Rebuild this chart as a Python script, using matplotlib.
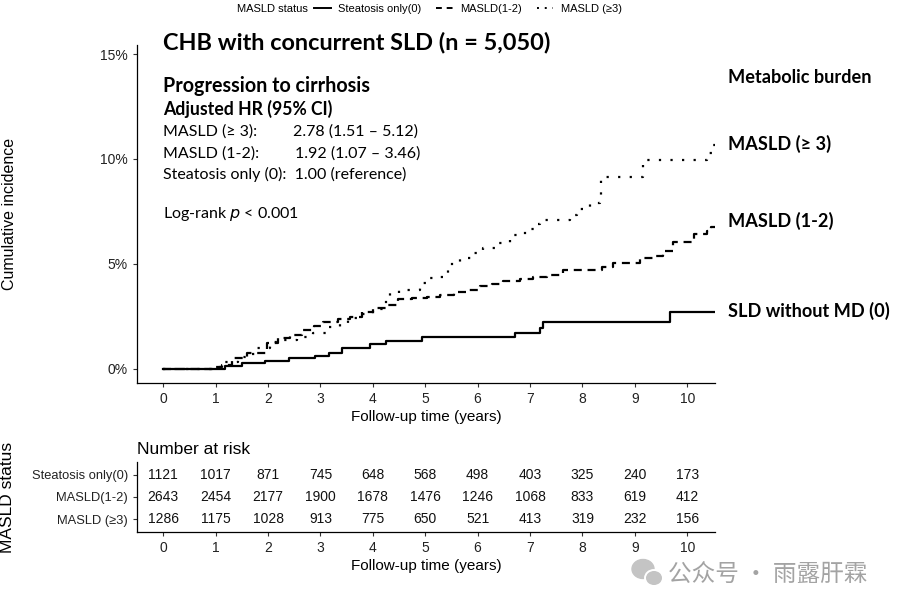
import matplotlib
matplotlib.use("Agg")
import matplotlib.pyplot as plt
from matplotlib.lines import Line2D
from matplotlib.patches import Ellipse

# step curves: time (years), cumulative incidence (%)
t_steat = [0, 1.18, 1.5, 1.95, 2.4, 2.9, 3.17, 3.42, 3.95, 4.25, 4.94, 6.72, 7.2, 7.25, 9.68, 10.53]
y_steat = [0, 0.14, 0.27, 0.38, 0.5, 0.62, 0.76, 1.0, 1.19, 1.35, 1.52, 1.73, 1.95, 2.24, 2.73, 2.73]

t_m12 = [0, 1.0, 1.12, 1.31, 1.6, 1.98, 2.2, 2.42, 2.65, 2.87, 3.05, 3.34, 3.57, 3.79, 4.0, 4.27,
         4.49, 4.75, 5.03, 5.29, 5.54, 5.8, 6.05, 6.27, 6.49, 6.81, 7.06, 7.32, 7.63, 8.37, 8.59,
         9.1, 9.35, 9.54, 9.73, 10.12, 10.38, 10.45, 10.53]
y_m12 = [0, 0.1, 0.19, 0.52, 0.75, 1.22, 1.46, 1.62, 1.86, 2.05, 2.25, 2.4, 2.49, 2.73, 2.89, 3.05,
         3.32, 3.37, 3.41, 3.52, 3.68, 3.76, 3.97, 4.05, 4.2, 4.29, 4.4, 4.48, 4.7, 4.87, 5.03,
         5.27, 5.4, 5.63, 6.03, 6.43, 6.59, 6.78, 6.78]

t_m3 = [0, 1.02, 1.18, 1.43, 1.66, 1.79, 2.04, 2.29, 2.55, 2.86, 3.12, 3.38, 3.53, 3.8, 4.0, 4.2,
        4.33, 4.5, 4.9, 5.06, 5.29, 5.44, 5.51, 5.67, 5.92, 6.11, 6.35, 6.62, 6.81, 7.0, 7.16,
        7.2, 7.77, 7.9, 8.15, 8.34, 8.36, 9.15, 10.37, 10.47, 10.53]
y_m3 = [0, 0.1, 0.35, 0.59, 0.71, 0.98, 1.3, 1.38, 1.51, 1.7, 1.98, 2.21, 2.41, 2.6, 2.85, 3.2,
        3.6, 3.76, 4.08, 4.32, 4.4, 4.71, 5.11, 5.27, 5.51, 5.78, 5.98, 6.38, 6.49, 6.65, 6.9,
        7.1, 7.33, 7.6, 7.89, 8.21, 9.16, 9.95, 10.27, 10.67, 10.67]

# number at risk
risk_times = list(range(0, 11))
risk_steat = [1121, 1017, 871, 745, 648, 568, 498, 403, 325, 240, 173]
risk_m12 = [2643, 2454, 2177, 1900, 1678, 1476, 1246, 1068, 833, 619, 412]
risk_m3 = [1286, 1175, 1028, 913, 775, 650, 521, 413, 319, 232, 156]
risk_labels = ["Steatosis only(0)", "MASLD(1-2)", "MASLD (\u22653)"]

plt.rcParams['font.family'] = ['Liberation Sans', 'DejaVu Sans']
cal = ['Lato', 'DejaVu Sans']

W, H = 897, 610
fig = plt.figure(figsize=(8.97, 6.1), dpi=100)

def box(l, r, b, t):
    return [l / W, 1 - b / H, (r - l) / W, (b - t) / H]

ax = fig.add_axes(box(137, 715, 383, 45))
lw = 1.6
ax.step(t_steat, y_steat, where="post", color="black", lw=lw, label="Steatosis only(0)")
ax.step(t_m12, y_m12, where="post", color="black", lw=lw, ls=(0, (3.6, 2.6)),
        dash_capstyle="butt", label="MASLD(1-2)")
ax.step(t_m3, y_m3, where="post", color="black", lw=lw, ls=(0, (1, 4.2)),
        dash_capstyle="butt", label="MASLD (\u22653)")

ax.set_xlim(-0.5, 10.53)
ax.set_ylim(-0.67, 15.43)
ax.set_xticks(range(0, 11))
ax.set_yticks([0, 5, 10, 15])
ax.set_yticklabels(["0%", "5%", "10%", "15%"])
ax.tick_params(labelsize=10, length=3, color="#333333", labelcolor="#222222")
for s in ["top", "right"]:
    ax.spines[s].set_visible(False)
for s in ["left", "bottom"]:
    ax.spines[s].set_linewidth(0.9)
ax.set_xlabel("Follow-up time (years)", fontsize=11, labelpad=3)
ax.set_ylabel("Cumulative incidence", fontsize=11.5)
ax.yaxis.set_label_coords(-0.208, 0.5)

# annotations inside the plot
ax.text(0, 15.57, "CHB with concurrent SLD (n = 5,050)", family=cal, fontweight="bold",
        fontsize=16.9, va="center", ha="left", clip_on=False)
ax.text(0, 13.5, "Progression to cirrhosis", family=cal, fontweight="bold", fontsize=14.2, va="center")
ax.text(0, 12.4, "Adjusted HR (95% CI)", family=cal, fontweight="bold", fontsize=12.7, va="center")
ax.text(0, 11.3, "MASLD (\u2265 3):", family=cal, fontsize=11.5, va="center")
ax.text(2.48, 11.3, "2.78 (1.51 \u2013 5.12)", family=cal, fontsize=11.5, va="center")
ax.text(0, 10.26, "MASLD (1-2):", family=cal, fontsize=11.5, va="center")
ax.text(2.52, 10.26, "1.92 (1.07 \u2013 3.46)", family=cal, fontsize=11.5, va="center")
ax.text(0, 9.26, "Steatosis only (0):  1.00 (reference)", family=cal, fontsize=11.5, va="center")
ax.text(0, 7.38, "Log-rank $\\it{p}$ < 0.001", family=cal, fontsize=11.5, va="center")

# right-hand labels
for yy, txt in [(13.9, "Metabolic burden"), (10.7, "MASLD (\u2265 3)"),
                (7.05, "MASLD (1-2)"), (2.76, "SLD without MD (0)")]:
    ax.text(10.78, yy, txt, family=cal, fontweight="bold", fontsize=13.1, va="center",
            ha="left", clip_on=False)

# top legend
fig.text(237 / W, 1 - 9 / H, "MASLD status", fontsize=8, va="center", ha="left")
handles = [Line2D([], [], color="black", lw=1.4),
           Line2D([], [], color="black", lw=1.4, ls=(0, (3, 2.5))),
           Line2D([], [], color="black", lw=1.4, ls=(0, (1, 3)))]
fig.legend(handles, ["Steatosis only(0)", "MASLD(1-2)", "MASLD (\u22653)"], ncol=3,
           loc="center left", bbox_to_anchor=(314 / W, 1 - 9 / H), frameon=False,
           fontsize=8, handlelength=1.5, handletextpad=0.7, columnspacing=1.3,
           borderpad=0, borderaxespad=0)

# risk table
rt = fig.add_axes(box(137, 715, 532, 462))
rows = [risk_steat, risk_m12, risk_m3]
ypos = [3, 2, 1]
for yy, vals in zip(ypos, rows):
    for tt, v in zip(risk_times, vals):
        rt.text(tt, yy, str(v), ha="center", va="center", fontsize=10, color="#111111")
rt.set_xlim(-0.5, 10.53)
rt.set_ylim(0.41, 3.59)
rt.set_xticks(range(0, 11))
rt.set_yticks(ypos)
rt.set_yticklabels(risk_labels)
rt.tick_params(axis="y", labelsize=9.3, length=3, color="#333333", labelcolor="#222222")
rt.tick_params(axis="x", labelsize=10, length=3, color="#333333", labelcolor="#222222")
for s in ["top", "right"]:
    rt.spines[s].set_visible(False)
for s in ["left", "bottom"]:
    rt.spines[s].set_linewidth(0.9)
rt.set_title("Number at risk", loc="left", fontsize=12.5, pad=6)
rt.set_xlabel("Follow-up time (years)", fontsize=11, labelpad=3)
rt.set_ylabel("MASLD status", fontsize=12.5)
rt.yaxis.set_label_coords(-0.211, 0.5)

# watermark
fig.patches.append(Ellipse((643 / W, 1 - 569 / H), 22 / W, 19 / H, transform=fig.transFigure,
                           color="#c4c4c4", zorder=5))
fig.patches.append(Ellipse((654 / W, 1 - 578 / H), 18 / W, 16 / H, transform=fig.transFigure,
                           facecolor="#c4c4c4", edgecolor="white", lw=1.4, zorder=6))
fig.text(668 / W, 1 - 575 / H, "公众号 · 雨露肝霖", fontsize=17, color="#a3a3a3",
         family=['Noto Sans CJK SC', 'DejaVu Sans'], va="center", ha="left")

fig.savefig("out.png", dpi=100)
